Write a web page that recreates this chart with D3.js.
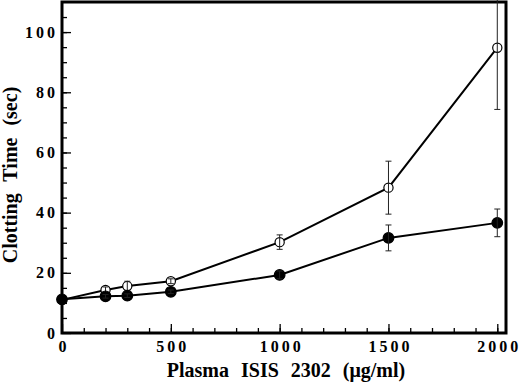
<!DOCTYPE html>
<html>
<head>
<meta charset="utf-8">
<script src="https://cdn.jsdelivr.net/npm/d3@7"></script>
<style>
  body { margin: 0; background: #fff; }
  text { font-family: "Liberation Serif", "DejaVu Serif", serif; font-weight: bold; fill: #000; }
</style>
</head>
<body>
<div id="chart"></div>
<script>
// chart values
const doses = [0, 200, 300, 500, 1000, 1500, 2000];
const openVals = [11, 14.3, 15.6, 17.2, 30.2, 48.3, 94.8];
const openErr = [0, 1.0, 1.6, 0.8, 2.4, 8.8, 20.5];
const filledVals = [11.2, 12.2, 12.4, 13.7, 19.3, 31.6, 36.6];
const filledErr = [0, 0.6, 0.6, 0.6, 1.3, 4.3, 4.6];
const xLabels = [0, 500, 1000, 1500, 2000];
const yLabels = [0, 20, 40, 60, 80, 100];

const svgW = 520, svgH = 384;
const margin = { top: 2, right: 14, bottom: 51, left: 62 };

const svg = d3.select("#chart")
    .append("svg")
    .attr("width", svgW)
    .attr("height", svgH);

const x = d3.scaleLinear().domain([0, 2040]).range([margin.left, svgW - margin.right]);
const y = d3.scaleLinear().domain([0, 110]).range([svgH - margin.bottom, margin.top]);

// minor ticks, pointing inward
svg.append("g")
    .attr("transform", `translate(0,${y(0)})`)
    .call(d3.axisBottom(x).tickValues(d3.range(100, 2040, 100)).tickSize(-5).tickFormat(""))
    .call(g => g.select(".domain").remove());
svg.append("g")
    .attr("transform", `translate(${x(0)},0)`)
    .call(d3.axisLeft(y).tickValues(d3.range(5, 110, 5)).tickSize(-5).tickFormat(""))
    .call(g => g.select(".domain").remove());

// major ticks
svg.append("g")
    .attr("transform", `translate(0,${y(0)})`)
    .call(d3.axisBottom(x).tickValues(xLabels).tickSize(-9).tickPadding(16).tickFormat(d => d))
    .call(g => g.select(".domain").remove())
    .call(g => g.selectAll("text")
        .attr("font-size", 16).attr("dx", 1.5).attr("dy", "0.2em")
        .style("letter-spacing", "3px")
        .style("font-family", "Liberation Serif").style("font-weight", "bold"));
svg.append("g")
    .attr("transform", `translate(${x(0)},0)`)
    .call(d3.axisLeft(y).tickValues(yLabels).tickSize(-9).tickPadding(7).tickFormat(d => d))
    .call(g => g.select(".domain").remove())
    .call(g => g.selectAll("text")
        .attr("font-size", 16).attr("dx", 3)
        .style("letter-spacing", "3px")
        .style("font-family", "Liberation Serif").style("font-weight", "bold"));

svg.selectAll(".tick line").attr("stroke", "#000").attr("stroke-width", 1.3);

// frame
svg.append("rect")
    .attr("x", x(0))
    .attr("y", y(110))
    .attr("width", x(2040) - x(0))
    .attr("height", y(0) - y(110))
    .attr("fill", "none")
    .attr("stroke", "#000")
    .attr("stroke-width", 3);

const line = d3.line().x(d => x(d[0])).y(d => y(d[1]));

function drawSeries(vals, errs, filled) {
    const pts = doses.map((d, i) => [d, vals[i], errs[i]]);
    svg.append("path")
        .datum(pts)
        .attr("d", line)
        .attr("fill", "none")
        .attr("stroke", "#000")
        .attr("stroke-width", 2);
    svg.selectAll(null)
        .data(pts)
        .enter()
        .append("circle")
        .attr("cx", d => x(d[0]))
        .attr("cy", d => y(d[1]))
        .attr("r", filled ? 5.3 : 4.6)
        .attr("fill", filled ? "#000" : "#fff")
        .attr("stroke", "#000")
        .attr("stroke-width", 1.2);
    const eb = svg.selectAll(null)
        .data(pts.filter(d => d[2] > 0))
        .enter()
        .append("g")
        .attr("stroke", "#222")
        .attr("stroke-width", 1);
    eb.append("line")
        .attr("x1", d => x(d[0])).attr("x2", d => x(d[0]))
        .attr("y1", d => y(d[1] - d[2])).attr("y2", d => y(d[1] + d[2]));
    eb.append("line")
        .attr("x1", d => x(d[0]) - 3).attr("x2", d => x(d[0]) + 3)
        .attr("y1", d => y(d[1] - d[2])).attr("y2", d => y(d[1] - d[2]));
    eb.append("line")
        .attr("x1", d => x(d[0]) - 3).attr("x2", d => x(d[0]) + 3)
        .attr("y1", d => y(d[1] + d[2])).attr("y2", d => y(d[1] + d[2]));
}

drawSeries(openVals, openErr, false);
drawSeries(filledVals, filledErr, true);

// axis titles
svg.append("text")
    .text("Plasma ISIS 2302 (μg/ml)")
    .attr("x", 286)
    .attr("y", 377)
    .attr("text-anchor", "middle")
    .attr("font-size", 20)
    .style("word-spacing", "7px");

svg.append("text")
    .text("Clotting Time (sec)")
    .attr("transform", "translate(17,175) rotate(-90)")
    .attr("text-anchor", "middle")
    .attr("font-size", 20)
    .style("word-spacing", "7px");
</script>
</body>
</html>
